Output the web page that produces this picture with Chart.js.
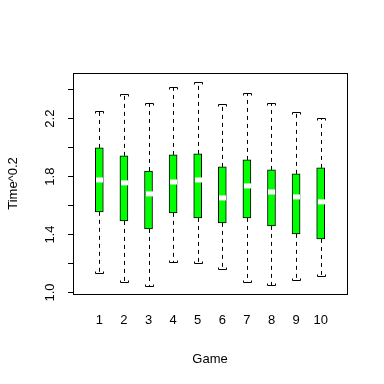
<!DOCTYPE html>
<html>
<head>
<meta charset="utf-8">
<script src="https://cdn.jsdelivr.net/npm/chart.js@4.4.1/dist/chart.umd.min.js"></script>
<style>
  html, body { margin: 0; padding: 0; background: #fff; }
</style>
</head>
<body>
<canvas id="myChart" width="384" height="384"></canvas>
<script>
// boxplot stats per game (Time^0.2)
const games = [1, 2, 3, 4, 5, 6, 7, 8, 9, 10];
const lowerWhisker = [1.136, 1.071, 1.048, 1.212, 1.205, 1.161, 1.071, 1.053, 1.087, 1.115];
const q1 = [1.557, 1.494, 1.439, 1.550, 1.515, 1.481, 1.515, 1.460, 1.405, 1.370];
const median = [1.777, 1.757, 1.681, 1.763, 1.777, 1.653, 1.736, 1.694, 1.660, 1.626];
const q3 = [1.998, 1.943, 1.839, 1.950, 1.957, 1.867, 1.915, 1.846, 1.819, 1.860];
const upperWhisker = [2.250, 2.370, 2.306, 2.416, 2.455, 2.299, 2.379, 2.306, 2.246, 2.205];
const yTicks = [1.0, 1.2, 1.4, 1.6, 1.8, 2.0, 2.2, 2.4];
const yLabels = ["1.0", "", "1.4", "", "1.8", "", "2.2", ""];

const ctx = document.getElementById("myChart");
const FONT = "Liberation Sans, Arial, sans-serif";
const BOX_W = 8;

const boxPlugin = {
  id: "boxExtras",
  afterDatasetsDraw(chart) {
    const c = chart.ctx;
    const xs = chart.scales.x;
    const ys = chart.scales.y;
    c.save();
    c.lineWidth = 1;
    c.strokeStyle = "#000";
    games.forEach((g, i) => {
      const x = Math.round(xs.getPixelForValue(g)) + 0.5;
      const half = BOX_W / 2;
      const yUp = Math.round(ys.getPixelForValue(upperWhisker[i])) + 0.5;
      const yLo = Math.round(ys.getPixelForValue(lowerWhisker[i])) + 0.5;
      const yTop = ys.getPixelForValue(q3[i]);
      const yBot = ys.getPixelForValue(q1[i]);
      // dashed whiskers
      c.setLineDash([4, 4]);
      c.beginPath();
      c.moveTo(x, yTop);
      c.lineTo(x, yUp);
      c.moveTo(x, yBot);
      c.lineTo(x, yLo);
      c.stroke();
      c.setLineDash([]);
      // staples
      c.beginPath();
      c.moveTo(x - half, yUp);
      c.lineTo(x + half, yUp);
      c.moveTo(x - half, yUp);
      c.lineTo(x - half, yUp + 2);
      c.moveTo(x + half, yUp);
      c.lineTo(x + half, yUp + 2);
      c.moveTo(x - half, yLo);
      c.lineTo(x + half, yLo);
      c.moveTo(x - half, yLo);
      c.lineTo(x - half, yLo - 2);
      c.moveTo(x + half, yLo);
      c.lineTo(x + half, yLo - 2);
      c.stroke();
      // median band
      const ym = ys.getPixelForValue(median[i]);
      c.fillStyle = "#fff";
      c.fillRect(x - half + 0.5, ym - 2.5, BOX_W - 1, 5);
    });
    // plot box
    const a = chart.chartArea;
    c.strokeRect(Math.round(a.left) + 0.5, Math.round(a.top) + 0.5,
      Math.round(a.right - a.left), Math.round(a.bottom - a.top));
    c.restore();
  }
};

new Chart(ctx, {
  type: "bar",
  data: {
    datasets: [
      {
        data: games.map((g, i) => ({ x: g, y: [q1[i], q3[i]] })),
        backgroundColor: "#00ff00",
        borderColor: "#000",
        borderWidth: 1,
        borderSkipped: false,
        barThickness: BOX_W,
      },
    ],
  },
  options: {
    responsive: false,
    animation: false,
    layout: { padding: { top: 73, right: 37, bottom: 0, left: 0 } },
    plugins: { legend: { display: false }, tooltip: { enabled: false } },
    scales: {
      x: {
        type: "linear",
        offset: false,
        min: -0.07,
        max: 11.07,
        afterBuildTicks: (s) => { s.ticks = games.map((v) => ({ value: v })); },
        afterFit: (s) => { s.height = 90; },
        grid: { display: false },
        border: { display: false },
        ticks: {
          padding: 11,
          color: "#000",
          font: { family: FONT, size: 13 },
          callback: (v) => String(v),
        },
        title: {
          display: true,
          text: "Game",
          color: "#000",
          font: { family: FONT, size: 13 },
          padding: { top: 0, bottom: 17 },
        },
      },
      y: {
        min: 0.99,
        max: 2.515,
        afterBuildTicks: (s) => { s.ticks = yTicks.map((v) => ({ value: v })); },
        afterFit: (s) => { s.width = 73; },
        grid: { drawOnChartArea: false, drawTicks: true, tickLength: 5, color: "#000" },
        border: { display: true, color: "#000" },
        ticks: {
          minRotation: 90,
          maxRotation: 90,
          crossAlign: "center",
          padding: 9,
          color: "#000",
          font: { family: FONT, size: 13 },
          callback: (v, i) => yLabels[i],
        },
        title: {
          display: true,
          text: "Time^0.2",
          color: "#000",
          font: { family: FONT, size: 13 },
          padding: { top: 6, bottom: 0 },
        },
      },
    },
  },
  plugins: [boxPlugin],
});
</script>
</body>
</html>
